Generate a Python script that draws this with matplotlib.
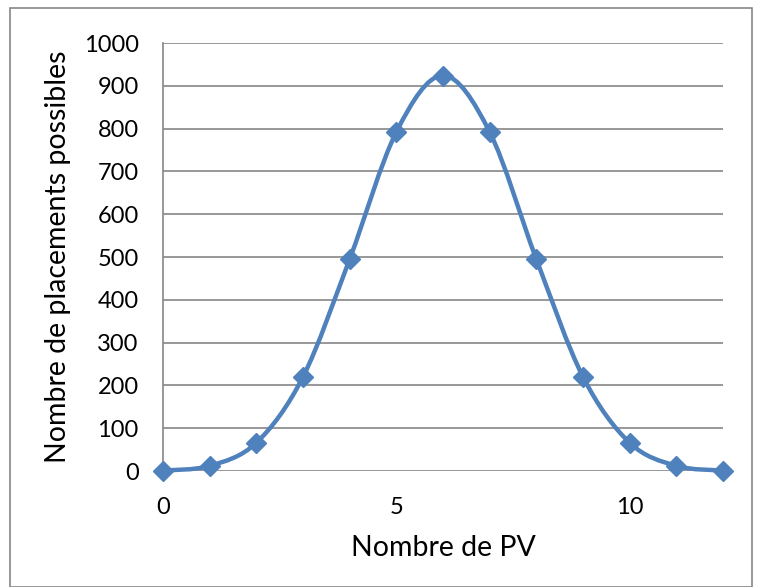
import numpy as np, matplotlib
matplotlib.use("Agg"); import matplotlib.pyplot as plt
from matplotlib.path import Path
from matplotlib.patches import PathPatch, Rectangle
plt.rcParams.update({"font.family":["Lato","DejaVu Sans"]})

# data
pv=[0,1,2,3,4,5,6,7,8,9,10,11,12]
placements=[1,12,66,220,495,792,924,792,495,220,66,12,1]

BLUE="#4F81BD"; GRID="#868686"

fig=plt.figure(figsize=(7.58,5.87),dpi=100)
fig.patches.append(Rectangle((10/758,0),(752-10)/758,(587-8)/587,transform=fig.transFigure,
                             fill=False,ec=GRID,lw=1.2))
ax=fig.add_axes([163/758,116/587,560/758,428/587])

# smoothed line (Excel-style bezier through the points)
x=np.array(pv,float); y=np.array(placements,float)
P=np.column_stack([x,y]); n=len(P)
verts=[P[0]]; codes=[Path.MOVETO]
for i in range(n-1):
    p0=P[max(i-1,0)]; p1=P[i]; p2=P[i+1]; p3=P[min(i+2,n-1)]
    c1=p1+(p2-p0)/6; c2=p2-(p3-p1)/6
    verts+= [c1,c2,p2]; codes+=[Path.CURVE4]*3
ax.add_patch(PathPatch(Path(verts,codes),fill=False,ec=BLUE,lw=3.2,zorder=3,clip_on=False))
ax.plot(pv,placements,ls="none",marker="D",ms=10.5,color=BLUE,zorder=4,clip_on=False)

ax.set_xlim(0,12); ax.set_ylim(0,1000)
ax.set_yticks(range(0,1001,100)); ax.set_xticks([0,5,10])
ax.grid(axis="y",color=GRID,lw=1.2); ax.set_axisbelow(True)
for s in ["top","right","bottom"]: ax.spines[s].set_visible(False)
ax.spines["left"].set_color(GRID); ax.spines["left"].set_linewidth(1.2)
ax.tick_params(length=0,labelsize=17,pad=17.5)
ax.tick_params(axis="x",pad=19)
ax.set_xlabel("Nombre de PV",fontsize=20.5,labelpad=12)
ax.set_ylabel("Nombre de placements possibles",fontsize=20.5,labelpad=9)
fig.savefig("out.png",dpi=100)
